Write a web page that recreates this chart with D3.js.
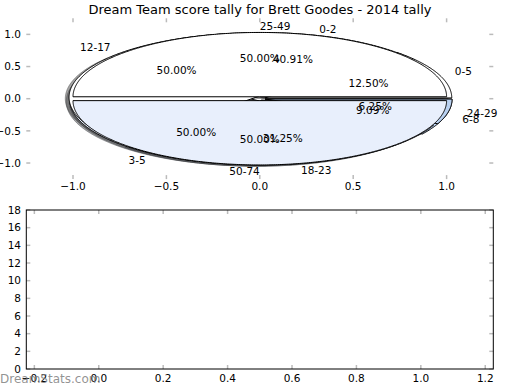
<!DOCTYPE html>
<html>
<head>
<meta charset="utf-8">
<script src="https://cdn.jsdelivr.net/npm/d3@7"></script>
<style>
body { margin: 0; background: #fff; }
text { font-family: "DejaVu Sans", sans-serif; }
</style>
</head>
<body>
<div id="chart"></div>
<script>
// Three score tallies, drawn on top of each other in this order
var tallyALabels = ["0-2", "3-5", "6-8"];
var tallyAValues = [9, 11, 2];
var tallyBLabels = ["0-5", "12-17", "18-23", "24-29"];
var tallyBValues = [2, 8, 5, 1];
var tallyCLabels = ["25-49", "50-74"];
var tallyCValues = [1, 1];

// tick labels
var pieTicks = [-1.0, -0.5, 0.0, 0.5, 1.0];
var barXTicks = [-0.2, 0.0, 0.2, 0.4, 0.6, 0.8, 1.0, 1.2];
var barYTicks = [0, 2, 4, 6, 8, 10, 12, 14, 16, 18];

// wedge colours for each tally
var coloursA = ["#ffffff", "#e8effc", "#b8d0f0"];
var coloursB = ["#ffffff", "#ffffff", "#e8effc", "#b8d0f0"];
var coloursC = ["#ffffff", "#e8effc"];

var svgWidth = 520;
var svgHeight = 390;
var explode = 0.03;
var shadowOffset = 0.02;
var tickColour = "#bbbbbb";

var svg = d3.select("#chart")
  .append("svg")
  .attr("width", svgWidth)
  .attr("height", svgHeight);

// top axes (pies, not equal aspect so they stretch into ellipses)
var x = d3.scaleLinear().domain([-1.25, 1.25]).range([26.3, 493.3]);
var y = d3.scaleLinear().domain([-1.25, 1.25]).range([179.1, 18.3]);

var line = d3.line()
  .x(d => x(d[0]))
  .y(d => y(d[1]));

function wedgePoints(cx, cy, a0, a1) {
  var pts = [[cx, cy]];
  var n = Math.max(2, Math.ceil((a1 - a0) / 0.01));
  for (var i = 0; i <= n; i++) {
    var t = a0 + (a1 - a0) * i / n;
    pts.push([cx + Math.cos(t), cy + Math.sin(t)]);
  }
  pts.push([cx, cy]);
  return pts;
}

var pieLayout = d3.pie()
  .sort(null)
  .startAngle(0)
  .endAngle(2 * Math.PI);

var tallies = [
  {labels: tallyALabels, values: tallyAValues, colours: coloursA},
  {labels: tallyBLabels, values: tallyBValues, colours: coloursB},
  {labels: tallyCLabels, values: tallyCValues, colours: coloursC}
];

tallies.forEach(function(t) {
  var total = d3.sum(t.values);
  t.arcs = pieLayout(t.values).map(function(a, i) {
    var mid = (a.startAngle + a.endAngle) / 2;
    return {
      a0: a.startAngle,
      a1: a.endAngle,
      mid: mid,
      cx: explode * Math.cos(mid),
      cy: explode * Math.sin(mid),
      label: t.labels[i],
      pct: 100 * a.value / total,
      colour: t.colours[i]
    };
  });
});

var pieGroup = svg.append("g");

// shadows sit below every wedge
tallies.forEach(function(t) {
  pieGroup.selectAll(null)
    .data(t.arcs)
    .enter()
    .append("path")
    .attr("d", d => line(wedgePoints(d.cx - shadowOffset, d.cy - shadowOffset, d.a0, d.a1)))
    .attr("fill", d => { var c = d3.rgb(d.colour); return d3.rgb(c.r * 0.3, c.g * 0.3, c.b * 0.3); })
    .attr("fill-opacity", 0.5)
    .attr("stroke", d => { var c = d3.rgb(d.colour); return d3.rgb(c.r * 0.3, c.g * 0.3, c.b * 0.3); })
    .attr("stroke-opacity", 0.5)
    .attr("stroke-width", 1);
});

tallies.forEach(function(t) {
  pieGroup.selectAll(null)
    .data(t.arcs)
    .enter()
    .append("path")
    .attr("d", d => line(wedgePoints(d.cx, d.cy, d.a0, d.a1)))
    .attr("fill", d => d.colour)
    .attr("stroke", "#000")
    .attr("stroke-width", 1)
    .attr("stroke-linejoin", "round");
});

// labels and percentages above the wedges
tallies.forEach(function(t) {
  t.arcs.forEach(function(d) {
    var lx = d.cx + 1.1 * Math.cos(d.mid);
    var ly = d.cy + 1.1 * Math.sin(d.mid);
    svg.append("text")
      .attr("x", x(lx))
      .attr("y", y(ly))
      .attr("dy", "0.35em")
      .attr("text-anchor", lx > 0 ? "start" : "end")
      .attr("font-size", 10.5)
      .text(d.label);
    svg.append("text")
      .attr("x", x(d.cx + 0.6 * Math.cos(d.mid)))
      .attr("y", y(d.cy + 0.6 * Math.sin(d.mid)))
      .attr("dy", "0.35em")
      .attr("text-anchor", "middle")
      .attr("font-size", 10.5)
      .text(d.pct.toFixed(2) + "%");
  });
});

function fmt(v, digits) {
  return v.toFixed(digits).replace("-", "\u2212");
}

// ticks for the frameless pie axes
var pieAxis = svg.append("g");
pieTicks.forEach(function(v) {
  pieAxis.append("line").attr("x1", x(v)).attr("x2", x(v)).attr("y1", y.range()[1]).attr("y2", y.range()[1] + 4);
  pieAxis.append("line").attr("x1", x(v)).attr("x2", x(v)).attr("y1", y.range()[0]).attr("y2", y.range()[0] - 4);
  pieAxis.append("line").attr("y1", y(v)).attr("y2", y(v)).attr("x1", x.range()[0]).attr("x2", x.range()[0] + 4);
  pieAxis.append("line").attr("y1", y(v)).attr("y2", y(v)).attr("x1", x.range()[1]).attr("x2", x.range()[1] - 4);
  pieAxis.append("text").attr("x", x(v)).attr("y", 190).attr("text-anchor", "middle")
    .attr("font-size", 10.5).text(fmt(v, 1));
  pieAxis.append("text").attr("x", 21).attr("y", y(v)).attr("dy", "0.35em").attr("text-anchor", "end")
    .attr("font-size", 10.5).text(fmt(v, 1));
});
pieAxis.selectAll("line").attr("stroke", tickColour).attr("stroke-width", 1.5);

// title
svg.append("text")
  .attr("x", 260)
  .attr("y", 14)
  .attr("text-anchor", "middle")
  .attr("font-size", 13)
  .text("Dream Team score tally for Brett Goodes - 2014 tally");

// bottom (empty) axes
var bx = d3.scaleLinear().domain([-0.225, 1.225]).range([26.3, 493.3]);
var by = d3.scaleLinear().domain([0, 18]).range([369, 210]);

var barAxis = svg.append("g");
barXTicks.forEach(function(v) {
  barAxis.append("line").attr("x1", bx(v)).attr("x2", bx(v)).attr("y1", by(18)).attr("y2", by(18) + 4);
  barAxis.append("line").attr("x1", bx(v)).attr("x2", bx(v)).attr("y1", by(0)).attr("y2", by(0) - 4);
  barAxis.append("text").attr("x", bx(v)).attr("y", 382).attr("text-anchor", "middle")
    .attr("font-size", 10.5).text(fmt(v, 1));
});
barYTicks.forEach(function(v) {
  barAxis.append("line").attr("y1", by(v)).attr("y2", by(v)).attr("x1", bx.range()[0]).attr("x2", bx.range()[0] + 4);
  barAxis.append("line").attr("y1", by(v)).attr("y2", by(v)).attr("x1", bx.range()[1]).attr("x2", bx.range()[1] - 4);
  barAxis.append("text").attr("x", 21).attr("y", by(v)).attr("dy", "0.35em").attr("text-anchor", "end")
    .attr("font-size", 10.5).text(fmt(v, 0));
});
barAxis.selectAll("line").attr("stroke", tickColour).attr("stroke-width", 1.5);

svg.append("rect")
  .attr("x", bx.range()[0])
  .attr("y", by(18))
  .attr("width", bx.range()[1] - bx.range()[0])
  .attr("height", by(0) - by(18))
  .attr("fill", "none")
  .attr("stroke", "#000")
  .attr("stroke-width", 1);

// watermark
svg.append("text")
  .attr("x", 0)
  .attr("y", 383)
  .attr("font-size", 12)
  .attr("fill", "#808080")
  .attr("fill-opacity", 0.85)
  .text("DreamStats.com");
</script>
</body>
</html>
